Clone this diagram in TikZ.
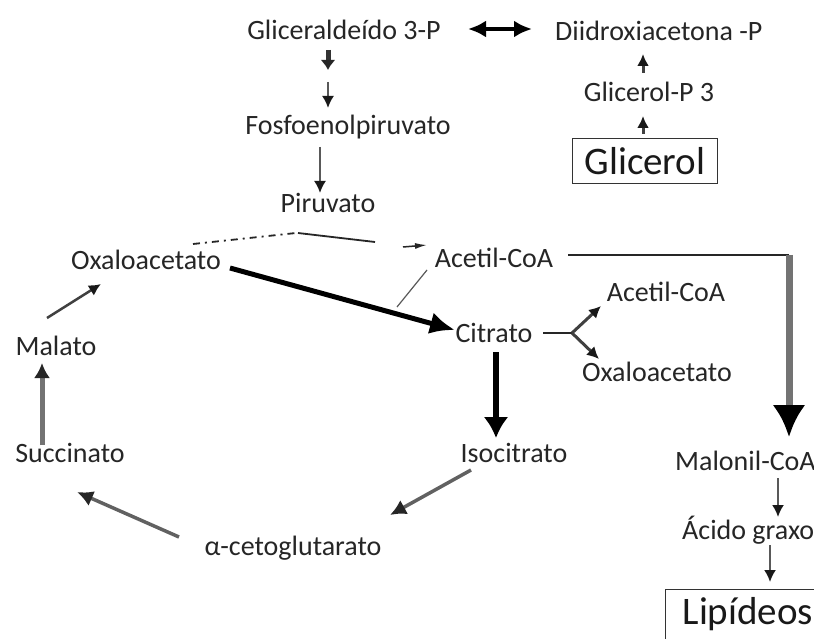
\documentclass[tikz,border=0pt]{standalone}
\usepackage{fontspec}
\setmainfont{Carlito}
\usetikzlibrary{arrows.meta}
\begin{document}
\begin{tikzpicture}[x=1pt,y=-1pt,
  lbl/.style={font=\fontsize{28}{32}\selectfont, inner sep=0pt, text=black!85},
  boxlbl/.style={font=\fontsize{39}{44}\selectfont, draw=black!80, line width=1.3pt, text=black!90, text height=27pt, text depth=0pt},
  thinarr/.style={draw=black!65, line width=2pt, -{Latex[length=12pt,width=12pt,color=black!90]}},
  smallarr/.style={draw=black!75, line width=3pt, -{Latex[length=12pt,width=12pt,color=black!90]}},
  midarr/.style={draw=black!62, line width=3.5pt, -{Latex[length=16pt,width=16pt,color=black!85]}},
  grayarr/.style={draw=black!55, line width=5pt, -{Latex[length=15pt,width=16pt,color=black!85]}},
  heavyarr/.style={draw=black, line width=5pt, -{Latex[length=25pt,width=22pt]}},
  thinline/.style={draw=black!85, line width=1.8pt},
]
\path[fill=white] (0,0) rectangle (814,639);
\useasboundingbox (0,0) rectangle (814,639);
\clip (0,0) rectangle (814,639);

% nodes
\node[lbl] (g3p) at (344,30) {Gliceraldeído 3-P};
\node[lbl,anchor=west] (dhap) at (555,31) {Diidroxiacetona -P};
\node[lbl] (glp) at (649,92) {Glicerol-P 3};
\node[boxlbl, minimum width=145pt, minimum height=45pt] (gli) at (645,161) {Glicerol};
\node[lbl] (pep) at (348,127) {Fosfoenolpiruvato};
\node[lbl] (pir) at (328,203) {Piruvato};
\node[lbl] (oaa) at (146,260) {Oxaloacetato};
\node[lbl] (acoa) at (494,258) {Acetil-CoA};
\node[lbl] (cit) at (494,333) {Citrato};
\node[lbl] (acoa2) at (666,292) {Acetil-CoA};
\node[lbl] (oaa2) at (657,372) {Oxaloacetato};
\node[lbl] (iso) at (514,453) {Isocitrato};
\node[lbl] (akg) at (293,548) {α-cetoglutarato};
\node[lbl] (suc) at (70,453) {Succinato};
\node[lbl] (mal) at (56,346) {Malato};
\node[lbl,anchor=west] (mcoa) at (675,461) {Malonil-CoA};
\node[lbl,anchor=west] (ag) at (682,530) {Ácido graxo};
\node[boxlbl, anchor=north west, inner xsep=17pt, inner ysep=5pt, text height=30pt, text depth=10pt] (lip) at (665,589) {Lipídeos};

% coordinates for connector ends
\coordinate (d1) at (468,29);  \coordinate (d2) at (532,29);
\coordinate (a1s) at (328,50); \coordinate (a1e) at (328,70);
\coordinate (a2s) at (328,82); \coordinate (a2e) at (328,108);
\coordinate (p1) at (320,147); \coordinate (p2) at (320,193);
\coordinate (g1) at (643,134); \coordinate (g2) at (643,116);
\coordinate (g3) at (643,73);  \coordinate (g4) at (643,54);
\coordinate (o1) at (193,244); \coordinate (o2) at (296,233);
\coordinate (o3) at (298,233); \coordinate (o4) at (375,242);
\coordinate (o5) at (403,247); \coordinate (o6) at (427,245);
\coordinate (t1) at (427,270); \coordinate (t2) at (397,307);
\coordinate (c1) at (230,268); \coordinate (c2) at (455,330);
\coordinate (f0) at (543,333); \coordinate (f1) at (572,333);
\coordinate (f2) at (601,306); \coordinate (f3) at (599,359);
\coordinate (i1) at (496,352); \coordinate (i2) at (496,438);
\coordinate (k1) at (471,470); \coordinate (k2) at (390,515);
\coordinate (s1) at (179,537); \coordinate (s2) at (77,492);
\coordinate (m1) at (42,445);  \coordinate (m2) at (42,363);
\coordinate (n1) at (47,318);  \coordinate (n2) at (101,284);
\coordinate (h0) at (568,255); \coordinate (corner) at (789,255);
\coordinate (v2) at (789,437);
\coordinate (l1) at (778,478); \coordinate (l2) at (778,517);
\coordinate (l3) at (770,545); \coordinate (l4) at (770,582);

% connectors
\draw[line width=4pt, {Latex[length=18pt,width=17pt]}-{Latex[length=18pt,width=17pt]}] (d1) -- (d2);
\draw[draw=black!80, line width=5pt, -{Latex[length=10pt,width=15pt,color=black!85]}] (a1s) -- (a1e);
\draw[thinarr] (a2s) -- (a2e);
\draw[thinarr] (p1) -- (p2);
\draw[smallarr] (g1) -- (g2);
\draw[smallarr] (g3) -- (g4);
\draw[thinline, dash pattern=on 7pt off 5pt on 2pt off 5pt] (o1) -- (o2);
\draw[thinline] (o3) -- (o4);
\draw[draw=black!85, line width=1.5pt, -{Latex[length=12pt,width=6pt]}] (o5) -- (o6);
\draw[draw=black!65, line width=1.2pt] (t1) -- (t2);
\draw[heavyarr] (c1) -- (c2);
\draw[thinline, line width=1.5pt] (f0) -- (f1);
\draw[smallarr] (f1) -- (f2);
\draw[smallarr] (f1) -- (f3);
\draw[draw=black, line width=6pt, -{Latex[length=21pt,width=25pt]}] (i1) -- (i2);
\draw[midarr] (k1) -- (k2);
\draw[midarr] (s1) -- (s2);
\draw[grayarr] (m1) -- (m2);
\draw[smallarr, line width=2.5pt] (n1) -- (n2);
\draw[draw=black!85, line width=2.5pt] (h0) -- (corner);
\draw[draw=black!55, line width=7pt, -{Latex[length=32pt,width=33pt,color=black]}] (corner) -- (v2);
\draw[thinarr] (l1) -- (l2);
\draw[thinarr] (l3) -- (l4);
\end{tikzpicture}
\end{document}
